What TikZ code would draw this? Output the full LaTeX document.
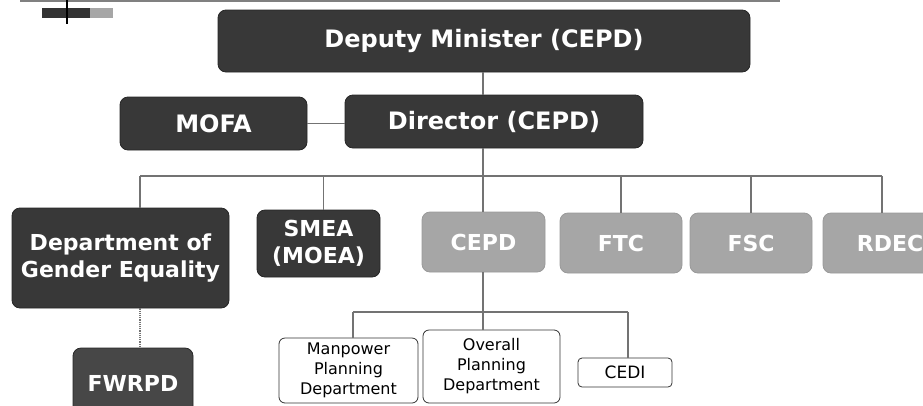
\documentclass[tikz,border=0pt]{standalone}
\usepackage{fontspec}
\setmainfont{DejaVu Sans}
\begin{document}
\begin{tikzpicture}[x=1pt,y=-1pt,
  darkbox/.style={draw=black!85, fill=black!78, rounded corners=8pt, text=white, font=\bfseries, align=center, inner sep=0pt, line width=0.8pt},
  greybox/.style={draw=black!40, fill=black!35, rounded corners=8pt, text=white, font=\bfseries, align=center, inner sep=0pt, line width=0.8pt},
  whitebox/.style={draw=black!80, fill=white, rounded corners=6pt, text=black, align=center, inner sep=0pt, line width=0.8pt, font=\fontsize{16}{20}\selectfont},
  bigtxt/.style={font=\bfseries\fontsize{24}{28}\selectfont},
  midtxt/.style={font=\bfseries\fontsize{22}{27}\selectfont},
  conn/.style={draw=black!55, line width=1.6pt},
  dotconn/.style={draw=black!55, line width=1.2pt, densely dotted}
]
\useasboundingbox (0,0) rectangle (923,405);
\begin{scope}
\clip (0,0) rectangle (923,405);
% header decoration
\draw[black!50, line width=1.2pt] (20,1) -- (780,1);
\fill[black!80] (42,8) rectangle (90,18);
\fill[black!35] (90,8) rectangle (113,18);
\draw[black, line width=2pt] (67,0) -- (67,24);

% nodes
\node[darkbox, bigtxt, minimum width=532, minimum height=62] (dep) at (484,41) {Deputy Minister (CEPD)};
\node[darkbox, bigtxt, minimum width=298, minimum height=53] (dir) at (494,121.5) {Director (CEPD)};
\node[darkbox, bigtxt, minimum width=187, minimum height=53] (mofa) at (213.5,123.5) {MOFA};

\node[darkbox, midtxt, minimum width=217, minimum height=100] (gend) at (120.5,258) {Department of\\Gender Equality};
\node[darkbox, midtxt, minimum width=123, minimum height=67] (smea) at (318.5,243.5) {SMEA\\(MOEA)};
\node[greybox, midtxt, minimum width=123, minimum height=60] (cepd) at (483.5,242) {CEPD};
\node[greybox, midtxt, minimum width=122, minimum height=60] (ftc) at (621,243) {FTC};
\node[greybox, midtxt, minimum width=122, minimum height=60] (fsc) at (751,243) {FSC};
\node[greybox, midtxt, minimum width=134, minimum height=60] (rdec) at (890,243) {RDEC};

\node[darkbox, midtxt, fill=black!72, minimum width=120, minimum height=70] (fwrpd) at (133,383) {FWRPD};

\node[whitebox, minimum width=139, minimum height=65] (man) at (348.5,370.5) {Manpower\\Planning\\Department};
\node[whitebox, minimum width=137, minimum height=73] (ovr) at (491.5,366.5) {Overall\\Planning\\Department};
\node[whitebox, minimum width=94, minimum height=29, rounded corners=4pt, font=\fontsize{17}{20}\selectfont] (cedi) at (625,372.5) {CEDI};

% coordinates
\coordinate (bus) at (483,176);
\coordinate (busL) at (140,176);
\coordinate (busR) at (882,176);
\coordinate (sub) at (483,312);
\coordinate (subL) at (353,312);
\coordinate (subR) at (628,312);

% connectors
\draw[conn] (dep.south -| bus) -- (dir.north -| bus);
\draw[conn] (mofa.east) -- (dir.west |- mofa.east);
\draw[conn] (dir.south -| bus) -- (bus);
\draw[conn] (busL) -- (busR);
\draw[conn] (busL) -- (busL |- gend.north);
\draw[conn] (bus -| smea.north) ++(5,0) coordinate (sm) -- (sm |- smea.north);
\draw[conn] (bus) -- (cepd.north -| bus);
\draw[conn] (bus -| ftc.north) -- (ftc.north);
\draw[conn] (bus -| fsc.north) -- (fsc.north);
\draw[conn] (busR) -- (busR |- rdec.north);
\draw[dotconn] (gend.south -| busL) -- (fwrpd.north -| busL);

\draw[conn] (cepd.south -| sub) -- (sub);
\draw[conn] (subL) -- (subR);
\draw[conn] (subL) -- (subL |- man.north);
\draw[conn] (sub) -- (ovr.north -| sub);
\draw[conn] (subR) -- (subR |- cedi.north);
\end{scope}
\end{tikzpicture}
\end{document}
